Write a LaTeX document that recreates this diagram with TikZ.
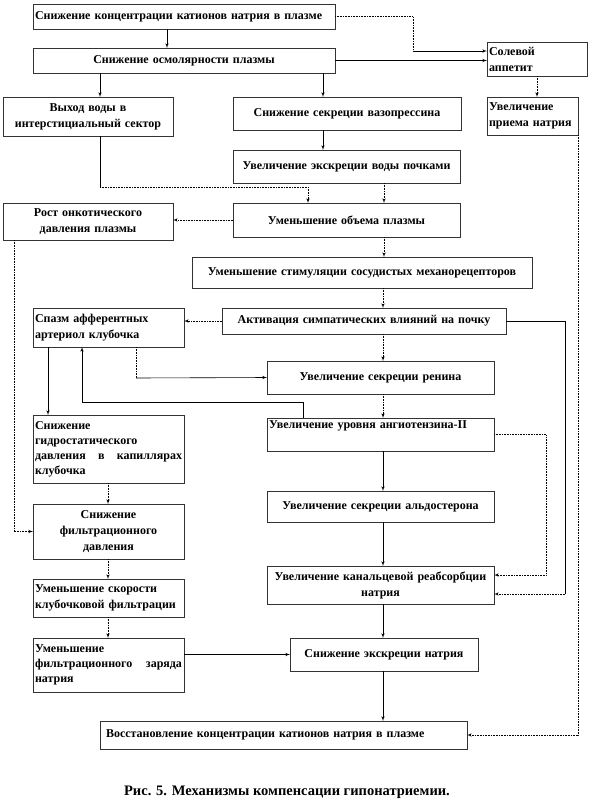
\documentclass[tikz,border=0pt]{standalone}
\usepackage{fontspec}
\setmainfont{Liberation Serif}
\usepackage{tikz}
\usetikzlibrary{arrows}
\tikzstyle{block} = [draw=black!80, line width=0.6pt, inner sep=2pt, outer sep=0pt, anchor=north west, font=\bfseries\fontsize{12}{16}\selectfont]
\tikzstyle{line} = [draw, line width=0.6pt]
\tikzstyle{dotline} = [draw, line width=0.6pt, densely dotted]

\begin{document}
\begin{tikzpicture}[x=1pt, y=-1pt, >=latex']
	\useasboundingbox (0,0) rectangle (592,809);
	% Bloecke
	\node[block, minimum width=302pt, minimum height=25pt, text width=298pt, align=left] (b1) at (33,4) {Снижение  концентрации катионов натрия в плазме};
	\node[block, minimum width=302pt, minimum height=25pt, text width=298pt, align=center] (b2) at (33,48) {Снижение  осмолярности плазмы};
	\node[block, minimum width=100pt, minimum height=34pt, text width=96pt, align=left] (b3) at (487,42) {Солевой\\ аппетит};
	\node[block, minimum width=170pt, minimum height=39pt, text width=166pt, align=center] (b4) at (3,97) {Выход воды в\\ интерстициальный  сектор};
	\node[block, minimum width=228pt, minimum height=33pt, text width=224pt, align=center] (b5) at (233,97) {Снижение  секреции вазопрессина};
	\node[block, minimum width=91pt, minimum height=38pt, text width=87pt, align=left] (b6) at (487,97) {Увеличение\\ приема натрия};
	\node[block, minimum width=227pt, minimum height=33pt, text width=223pt, align=center] (b7) at (233,150) {Увеличение  экскреции воды почками};
	\node[block, minimum width=170pt, minimum height=37pt, text width=166pt, align=center] (b8) at (3,203) {Рост онкотического\\ давления плазмы};
	\node[block, minimum width=227pt, minimum height=34pt, text width=223pt, align=center] (b9) at (233,203) {Уменьшение объема плазмы};
	\node[block, minimum width=340pt, minimum height=31pt, text width=336pt, align=center] (b10) at (192,257) {Уменьшение стимуляции сосудистых  механорецепторов};
	\node[block, minimum width=151pt, minimum height=39pt, text width=147pt, align=left] (b11) at (33,308) {Спазм афферентных\\ артериол клубочка};
	\node[block, minimum width=284pt, minimum height=26pt, text width=280pt, align=center] (b12) at (222,308) {Активация  симпатических  влияний на почку};
	\node[block, minimum width=227pt, minimum height=33pt, text width=223pt, align=center] (b13) at (267,361) {Увеличение  секреции ренина};
	\node[block, minimum width=151pt, minimum height=68pt, text width=147pt, align=left, font=\bfseries\fontsize{12}{15}\selectfont] (b14) at (33,415) {Снижение\\ гидростатического\\ давления \hfill в \hfill капиллярах\\ клубочка};
	\node[block, minimum width=227pt, minimum height=33pt, text width=223pt, align=left] (b15) at (267,418) {Увеличение  уровня ангиотензина-II\\ \strut};
	\node[block, minimum width=227pt, minimum height=31pt, text width=223pt, align=center] (b16) at (267,491) {Увеличение  секреции альдостерона};
	\node[block, minimum width=151pt, minimum height=55pt, text width=147pt, align=center] (b17) at (33,504) {Снижение\\ фильтрационного\\ давления};
	\node[block, minimum width=227pt, minimum height=38pt, text width=223pt, align=center] (b18) at (267,566) {Увеличение  канальцевой реабсорбции\\ натрия};
	\node[block, minimum width=151pt, minimum height=38pt, text width=147pt, align=left] (b19) at (33,579) {Уменьшение скорости\\ клубочковой фильтрации};
	\node[block, minimum width=151pt, minimum height=54pt, text width=147pt, align=left, font=\bfseries\fontsize{12}{15}\selectfont] (b20) at (33,638) {Уменьшение\\ фильтрационного \hfill заряда\\ натрия};
	\node[block, minimum width=188pt, minimum height=33pt, text width=184pt, align=center] (b21) at (290,638) {Снижение  экскреции натрия};
	\node[block, minimum width=367pt, minimum height=28pt, text width=355pt, inner xsep=6pt, align=left] (b22) at (100,721) {Восстановление  концентрации катионов  натрия в плазме};
	\node[font=\bfseries\fontsize{14.5}{17}\selectfont] (cap) at (287,792) {Рис. 5. Механизмы компенсации гипонатриемии.};
	% Hilfspunkte
	\coordinate (k1) at (413,51);
	\coordinate (k2) at (100,187);
	\coordinate (k3) at (565,594);
	\coordinate (k4) at (136,378);
	% Pfeile
	\path[line, ->] (b1.south -| 167,0) -- (b2.north -| 167,0);
	\path[dotline] (b1.east) -| (k1);
	\path[line, ->] (k1) -- (b3.west |- k1);
	\path[line, ->] (b2.east) -- (b2.east -| b3.west);
	\path[line, ->] (b2.south -| 100,0) -- (b4.north -| 100,0);
	\path[line, ->] (b2.south -| 323,0) -- (b5.north -| 323,0);
	\path[dotline, ->] (b3.south) -- (b3.south |- b6.north);
	\path[dotline, ->] (b6.south east) |- (b22.east);
	\path[line] (b4.south -| k2) -- (k2);
	\path[dotline, ->] (k2) -| (b9.north -| 308,0);
	\path[line, ->] (b5.south -| 323,0) -- (b7.north -| 323,0);
	\path[dotline, ->] (b7.south -| 384,0) -- (b9.north -| 384,0);
	\path[dotline, ->] (b9.west) -- (b9.west -| b8.east);
	\path[dotline, ->] (b9.south -| 384,0) -- (b10.north -| 384,0);
	\path[dotline, ->] (b8.south -| 14,0) |- (b17.west);
	\path[dotline, ->] (b10.south -| 383,0) -- (b12.north -| 383,0);
	\path[dotline, ->] (b12.west) -- (b12.west -| b11.east);
	\path[dotline, ->] (b12.south -| 383,0) -- (b13.north -| 383,0);
	\path[line] (b12.east) -| (k3);
	\path[dotline, ->] (k3) -- (b18.east |- k3);
	\path[line, ->] (b11.south -| 48,0) -- (b14.north -| 48,0);
	\path[dotline] (b11.south -| k4) -- (k4);
	\path[line, ->] (k4) -- (b13.west);
	\path[line, ->] (b15.north -| 303,0) |- (82,402) -- (b11.south -| 82,0);
	\path[dotline, ->] (b13.south -| 383,0) -- (b15.north -| 383,0);
	\path[dotline, ->] (b15.east) -| (546,575) -- (b18.east |- 0,575);
	\path[line, ->] (b15.south -| 383,0) -- (b16.north -| 383,0);
	\path[line, ->] (b16.south -| 383,0) -- (b18.north -| 383,0);
	\path[dotline, ->] (b14.south -| 108,0) -- (b17.north -| 108,0);
	\path[dotline, ->] (b17.south -| 108,0) -- (b19.north -| 108,0);
	\path[dotline, ->] (b19.south -| 108,0) -- (b20.north -| 108,0);
	\path[line, ->] (b21.west -| b20.east) -- (b21.west);
	\path[line, ->] (b18.south -| 383,0) -- (b21.north -| 383,0);
	\path[line, ->] (b21.south -| 383,0) -- (b22.north -| 383,0);
\end{tikzpicture}
\end{document}
